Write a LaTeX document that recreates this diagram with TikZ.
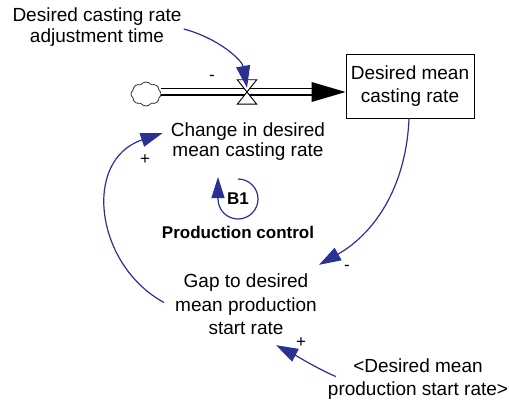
\documentclass[tikz,border=0pt]{standalone}
\usepackage{fontspec}
\setmainfont{Liberation Sans}
\usetikzlibrary{arrows.meta,shapes.symbols}
\definecolor{linkblue}{RGB}{42,48,148}
\begin{document}
\begin{tikzpicture}[x=1pt,y=-1pt,
  lbl/.style={align=center,inner sep=0pt,font=\fontsize{19}{21}\selectfont},
  sign/.style={inner sep=0pt,font=\fontsize{17}{19}\selectfont},
  boldlbl/.style={inner sep=0pt,font=\fontsize{17}{19}\selectfont\bfseries},
  link/.style={draw=linkblue,line width=1.2pt,-{Triangle[length=22pt,width=14pt]}},
  pipe/.style={double distance=5pt,line width=1.1pt},
  valveshape/.style={line width=0.9pt,fill=white}
]
\useasboundingbox (0,0) rectangle (509,404);

% nodes
\node[lbl] (adj) at (97,27) {Desired casting rate\\adjustment time};
\node[cloud, cloud puffs=8, cloud puff arc=110, draw=black!80, line width=0.8pt,
      minimum width=30pt, minimum height=24pt, inner sep=0pt] (cloud) at (146,94) {};
\node[inner sep=0pt, minimum width=19pt, minimum height=24pt] (valve) at (247,92) {};
\node[lbl, draw, line width=0.9pt, minimum width=128pt, minimum height=64pt,
      font=\fontsize{19}{23}\selectfont] (box) at (410,86) {Desired mean\\casting rate};
\node[lbl, font=\fontsize{19}{20}\selectfont] (chg) at (248,142) {Change in desired\\mean casting rate};
\node[lbl, font=\fontsize{19}{23.5}\selectfont] (gap) at (246,304.5) {Gap to desired\\mean production\\start rate};
\node[lbl, font=\fontsize{19}{23}\selectfont] (dmp) at (418,379.5) {<Desired mean\\production start rate>};
\node[boldlbl] (b1) at (238,199) {B1};
\node[boldlbl] (pc) at (238,232) {Production control};

% signs
\node[sign] (s1) at (212,78) {-};
\node[sign] (s2) at (347,268) {-};
\node[sign] (s3) at (145,160) {+};
\node[sign] (s4) at (301,343) {+};

% flow pipe
\coordinate (tip) at (box.west |- valve);
\draw[pipe] (cloud.east |- valve) -- ([xshift=-33pt]tip);
\fill (tip) -- ++(-34,-10) -- ++(0,20) -- cycle;
\draw[valveshape] (valve.north west) -- (valve.north east) -- (valve.center) -- cycle;
\draw[valveshape] (valve.south west) -- (valve.south east) -- (valve.center) -- cycle;

% links
\draw[link] ([shift={(2,2)}]adj.east) .. controls (218,38) and (242,60) .. ([yshift=-8pt]valve.north);
\draw[link] ([xshift=-1pt]box.south) .. controls (406,190) and (372,235) .. ([shift={(2,-9)}]gap.north east);
\draw[link] ([shift={(-11,-2)}]gap.west) .. controls (95,265) and (82,160) .. ([shift={(-8,-9)}]chg.west);
\draw[link] ([shift={(8,-3)}]dmp.west) .. controls (318,369) and (295,355) .. ([shift={(-41,10)}]gap.south east);
\draw[link, -{Triangle[length=21pt,width=13pt]}] ([yshift=20pt]b1.center) arc[start angle=-90, end angle=180, radius=20] -- ++(0,-22);
\end{tikzpicture}
\end{document}
